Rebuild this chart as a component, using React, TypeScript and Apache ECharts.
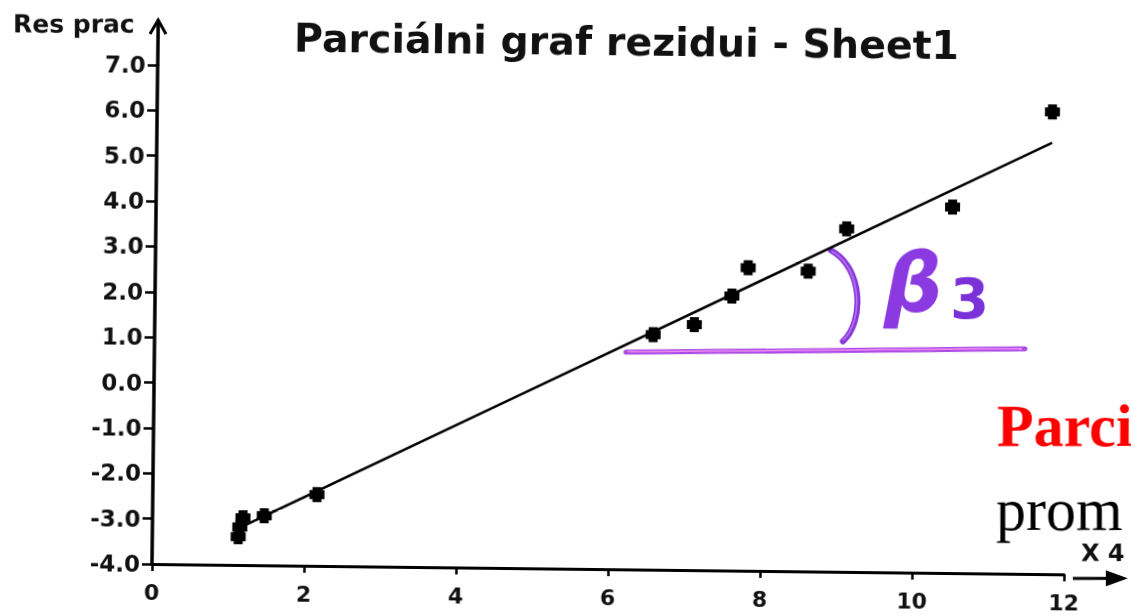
import { useEffect, useRef } from "react";
import * as echarts from "echarts";

// Partial residuals of X4 (x) against the residual component (y)
const residX = [1.13, 1.15, 1.19, 1.47, 2.16, 6.56, 7.1, 7.59, 7.8, 8.59, 9.09, 10.48, 11.78];
const residY = [-3.38, -3.16, -2.96, -2.91, -2.43, 1.18, 1.41, 2.05, 2.68, 2.62, 3.56, 4.07, 6.19];

// End points of the fitted partial regression line
const fitX = [1.22, 11.78];
const fitY = [-3.12, 5.51];

// Axis ranges and tick steps
const xRange = [0, 12];
const xStep = 2;
const yRange = [-4, 7];
const yStep = 1;

const TITLE = "Parciálni graf rezidui - Sheet1";
const Y_NAME = "Res prac";
const X_NAME = "X 4";
const SLIDE_HEAD = "Parci";
const SLIDE_LINE = "prom";
const BETA = "β";
const BETA_SUB = "3";

// the printed sheet sits slightly skewed on the page
const TILT_DEG = 0.65;
const TILT = (TILT_DEG * Math.PI) / 180;
const ORIGIN_X = 152;
const ORIGIN_Y = 564;

const labelFont = {
  color: "#111",
  fontFamily: "DejaVu Sans",
  fontWeight: "bold" as const,
  fontSize: 23,
};

export default function App() {
  const ref = useRef<HTMLDivElement>(null);

  useEffect(() => {
    if (!ref.current) return;
    const chart = echarts.init(ref.current, null, { renderer: "svg" });

    const points = residX.map((x, i) => [x, residY[i]]);
    const fit = fitX.map((x, i) => [x, fitY[i]]);

    chart.setOption({
      animation: false,
      backgroundColor: "#fff",
      title: {
        text: TITLE,
        left: 283,
        top: 11,
        textStyle: {
          color: "#111",
          fontFamily: "DejaVu Sans",
          fontWeight: "bold",
          fontSize: 39.5,
        },
      },
      grid: { left: ORIGIN_X, top: 65, right: 67, bottom: 615 - ORIGIN_Y, containLabel: false },
      xAxis: {
        type: "value",
        min: xRange[0],
        max: xRange[1],
        interval: xStep,
        splitLine: { show: false },
        axisLine: { show: true, onZero: false, lineStyle: { color: "#000", width: 3 } },
        axisTick: { show: true, length: 7, lineStyle: { color: "#000", width: 2.5 } },
        axisLabel: { ...labelFont, fontSize: 22, margin: 17 },
      },
      yAxis: {
        type: "value",
        min: yRange[0],
        max: yRange[1],
        interval: yStep,
        splitLine: { show: false },
        axisLine: { show: true, onZero: false, lineStyle: { color: "#000", width: 3.5 } },
        axisTick: { show: true, length: 10, lineStyle: { color: "#000", width: 2.5 } },
        axisLabel: { ...labelFont, margin: 12, formatter: (v: number) => v.toFixed(1) },
      },
      series: [
        {
          type: "line",
          data: fit,
          showSymbol: false,
          symbol: "none",
          lineStyle: { color: "#000", width: 2.6 },
          z: 2,
        },
        {
          type: "scatter",
          data: points,
          symbol: "path://M2,0H8V2H10V8H8V10H2V8H0V2H2Z",
          symbolSize: 15,
          itemStyle: { color: "#000", opacity: 1 },
          z: 3,
        },
      ],
      graphic: [
        {
          type: "group",
          originX: ORIGIN_X,
          originY: ORIGIN_Y,
          rotation: TILT,
          children: [
            // y axis extension with arrow head
            {
              type: "line",
              shape: { x1: 157.7, y1: 66, x2: 158.2, y2: 22 },
              style: { stroke: "#000", lineWidth: 3.5 },
            },
            {
              type: "polyline",
              shape: { points: [[150, 34], [158.2, 20], [166, 34]] },
              style: { stroke: "#000", lineWidth: 3, fill: "none" },
            },
            {
              type: "text",
              x: 13,
              y: 24,
              style: {
                text: Y_NAME,
                fill: "#111",
                font: "bold 25px 'DejaVu Sans'",
                align: "left",
                verticalAlign: "middle",
              },
            },
            // x axis arrow
            {
              type: "line",
              shape: { x1: 1073, y1: 578, x2: 1112, y2: 578 },
              style: { stroke: "#000", lineWidth: 3 },
            },
            {
              type: "polygon",
              shape: { points: [[1106, 570], [1128, 578], [1106, 586]] },
              style: { fill: "#000" },
            },
            {
              type: "text",
              x: 1081,
              y: 553,
              style: {
                text: X_NAME,
                fill: "#111",
                font: "bold 24px 'DejaVu Sans'",
                align: "left",
                verticalAlign: "middle",
              },
            },
            // hand-drawn angle marking
            {
              type: "line",
              shape: { x1: 626, y1: 352, x2: 1025, y2: 348.5 },
              style: { stroke: "#a94ae6", lineWidth: 5, lineCap: "round" },
            },
            {
              type: "line",
              shape: { x1: 628, y1: 351.5, x2: 1022, y2: 348.2 },
              style: { stroke: "#f08ef5", lineWidth: 1.5 },
            },
            {
              type: "bezierCurve",
              shape: { x1: 831, y1: 250, cpx1: 864, cpy1: 268, cpx2: 864, cpy2: 322, x2: 843, y2: 341 },
              style: { stroke: "#8436d8", lineWidth: 6, fill: "none", lineCap: "round" },
            },
            {
              type: "bezierCurve",
              shape: { x1: 832, y1: 251, cpx1: 863, cpy1: 268, cpx2: 863, cpy2: 322, x2: 843, y2: 340 },
              style: { stroke: "#b86cf0", lineWidth: 1.8, fill: "none" },
            },
            {
              type: "text",
              x: 884,
              y: 283,
              style: {
                text: BETA,
                fill: "#8a3ae0",
                font: "italic bold 82px 'DejaVu Sans'",
                align: "left",
                verticalAlign: "middle",
              },
            },
            {
              type: "text",
              x: 950,
              y: 299,
              style: {
                text: BETA_SUB,
                fill: "#7a32d8",
                font: "bold 56px 'DejaVu Sans'",
                align: "left",
                verticalAlign: "middle",
              },
            },
            // slide text beside the chart
            {
              type: "text",
              x: 997,
              y: 426,
              style: {
                text: SLIDE_HEAD,
                fill: "#ff0000",
                font: "bold 60px 'Liberation Serif'",
                align: "left",
                verticalAlign: "middle",
              },
            },
            {
              type: "text",
              x: 996,
              y: 510,
              style: {
                text: SLIDE_LINE,
                fill: "#000",
                font: "60px 'Liberation Serif'",
                align: "left",
                verticalAlign: "middle",
              },
            },
          ],
        },
      ],
    });

    return () => chart.dispose();
  }, []);

  return (
    <div
      ref={ref}
      style={{
        position: "fixed",
        left: 0,
        top: 0,
        width: 1131,
        height: 615,
        background: "#fff",
        transform: `rotate(${TILT_DEG}deg)`,
        transformOrigin: `${ORIGIN_X}px ${ORIGIN_Y}px`,
      }}
    />
  );
}
